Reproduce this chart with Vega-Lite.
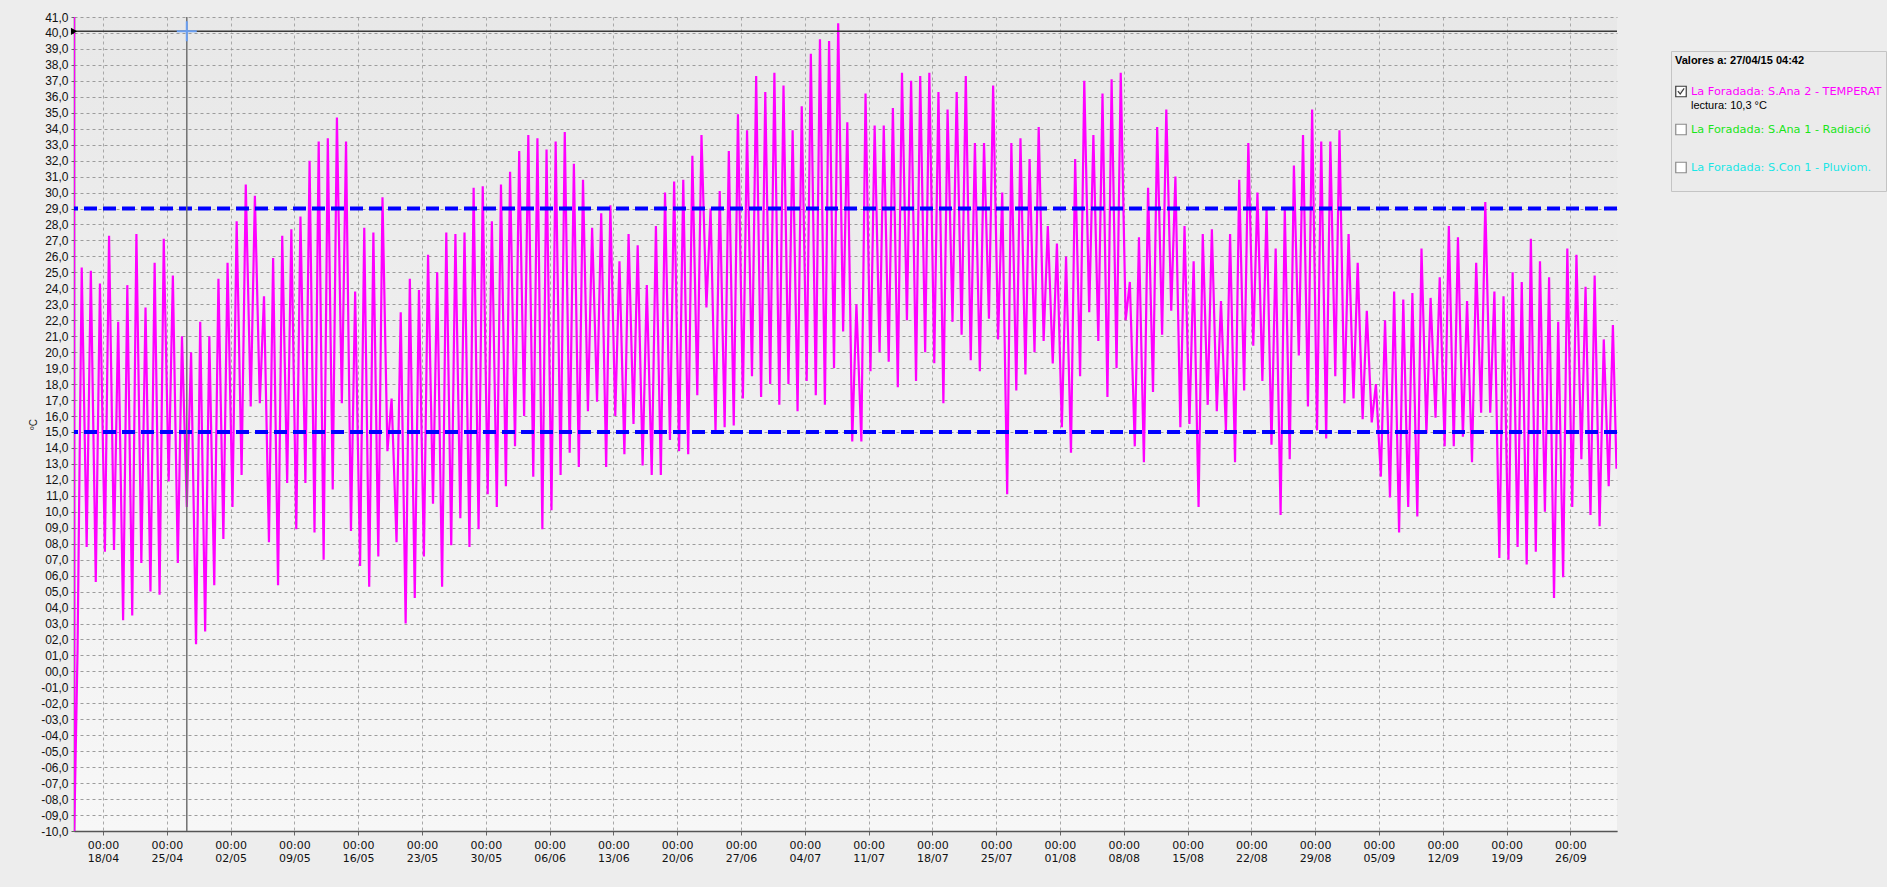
{
  "$schema": "https://vega.github.io/schema/vega-lite/v6.json",
  "width": 1543,
  "height": 814,
  "autosize": {"type": "none"},
  "padding": {"left": 74, "top": 17, "right": 270, "bottom": 56},
  "background": "#ededed",
  "config": {
    "font": "DejaVu Sans",
    "view": {"stroke": null, "fill": {"gradient": "linear", "x1": 0, "y1": 0, "x2": 0, "y2": 1, "stops": [{"offset": 0, "color": "#e8e8e8"}, {"offset": 1, "color": "#f7f7f7"}]}},
    "axis": {"domainColor": "#555555", "domainWidth": 1.5, "tickColor": "#666666", "gridColor": "#9c9c9c", "gridDash": [3, 3], "gridWidth": 1, "labelColor": "#111111"}
  },
  "datasets": {
    "temperatura": [
      {"t":"2015-04-14T19:40","v":41},{"t":"2015-04-14T20:20","v":-10},
      {"t":"2015-04-15T05:00","v":1.3},{"t":"2015-04-15T16:00","v":25.3},
      {"t":"2015-04-16T05:00","v":7.8},{"t":"2015-04-16T16:00","v":25.1},
      {"t":"2015-04-17T05:00","v":5.6},{"t":"2015-04-17T16:00","v":24.3},
      {"t":"2015-04-18T05:00","v":7.5},{"t":"2015-04-18T16:00","v":27.3},
      {"t":"2015-04-19T05:00","v":7.6},{"t":"2015-04-19T16:00","v":21.9},
      {"t":"2015-04-20T05:00","v":3.2},{"t":"2015-04-20T16:00","v":24.2},
      {"t":"2015-04-21T05:00","v":3.5},{"t":"2015-04-21T16:00","v":27.4},
      {"t":"2015-04-22T05:00","v":6.8},{"t":"2015-04-22T16:00","v":22.8},
      {"t":"2015-04-23T05:00","v":5.0},{"t":"2015-04-23T16:00","v":25.6},
      {"t":"2015-04-24T05:00","v":4.8},{"t":"2015-04-24T16:00","v":27.1},
      {"t":"2015-04-25T05:00","v":11.9},{"t":"2015-04-25T16:00","v":24.8},
      {"t":"2015-04-26T05:00","v":6.8},{"t":"2015-04-26T16:00","v":21.0},
      {"t":"2015-04-27T04:42","v":10.3},{"t":"2015-04-27T16:00","v":20.0},
      {"t":"2015-04-28T05:00","v":1.7},{"t":"2015-04-28T16:00","v":21.9},
      {"t":"2015-04-29T05:00","v":2.5},{"t":"2015-04-29T16:00","v":21.0},
      {"t":"2015-04-30T05:00","v":5.4},{"t":"2015-04-30T16:00","v":24.6},
      {"t":"2015-05-01T05:00","v":8.3},{"t":"2015-05-01T16:00","v":25.6},
      {"t":"2015-05-02T05:00","v":10.3},{"t":"2015-05-02T16:00","v":28.2},
      {"t":"2015-05-03T05:00","v":12.3},{"t":"2015-05-03T16:00","v":30.5},
      {"t":"2015-05-04T05:00","v":16.6},{"t":"2015-05-04T16:00","v":29.8},
      {"t":"2015-05-05T05:00","v":16.8},{"t":"2015-05-05T16:00","v":23.5},
      {"t":"2015-05-06T05:00","v":8.1},{"t":"2015-05-06T16:00","v":25.9},
      {"t":"2015-05-07T05:00","v":5.4},{"t":"2015-05-07T16:00","v":27.3},
      {"t":"2015-05-08T05:00","v":11.8},{"t":"2015-05-08T16:00","v":27.7},
      {"t":"2015-05-09T05:00","v":8.9},{"t":"2015-05-09T16:00","v":28.5},
      {"t":"2015-05-10T05:00","v":11.8},{"t":"2015-05-10T16:00","v":32.0},
      {"t":"2015-05-11T05:00","v":8.7},{"t":"2015-05-11T16:00","v":33.2},
      {"t":"2015-05-12T05:00","v":7.0},{"t":"2015-05-12T16:00","v":33.4},
      {"t":"2015-05-13T05:00","v":11.4},{"t":"2015-05-13T16:00","v":34.7},
      {"t":"2015-05-14T05:00","v":16.8},{"t":"2015-05-14T16:00","v":33.2},
      {"t":"2015-05-15T05:00","v":8.8},{"t":"2015-05-15T16:00","v":23.8},
      {"t":"2015-05-16T05:00","v":6.6},{"t":"2015-05-16T16:00","v":27.8},
      {"t":"2015-05-17T05:00","v":5.3},{"t":"2015-05-17T16:00","v":27.5},
      {"t":"2015-05-18T05:00","v":7.2},{"t":"2015-05-18T16:00","v":29.7},
      {"t":"2015-05-19T05:00","v":13.8},{"t":"2015-05-19T16:00","v":17.1},
      {"t":"2015-05-20T05:00","v":8.1},{"t":"2015-05-20T16:00","v":22.5},
      {"t":"2015-05-21T05:00","v":3.0},{"t":"2015-05-21T16:00","v":24.6},
      {"t":"2015-05-22T05:00","v":4.6},{"t":"2015-05-22T16:00","v":23.9},
      {"t":"2015-05-23T05:00","v":7.2},{"t":"2015-05-23T16:00","v":26.1},
      {"t":"2015-05-24T05:00","v":10.5},{"t":"2015-05-24T16:00","v":25.0},
      {"t":"2015-05-25T05:00","v":5.3},{"t":"2015-05-25T16:00","v":27.5},
      {"t":"2015-05-26T05:00","v":7.9},{"t":"2015-05-26T16:00","v":27.4},
      {"t":"2015-05-27T05:00","v":9.6},{"t":"2015-05-27T16:00","v":27.5},
      {"t":"2015-05-28T05:00","v":7.8},{"t":"2015-05-28T16:00","v":30.3},
      {"t":"2015-05-29T05:00","v":8.9},{"t":"2015-05-29T16:00","v":30.4},
      {"t":"2015-05-30T05:00","v":11.1},{"t":"2015-05-30T16:00","v":28.2},
      {"t":"2015-05-31T05:00","v":10.3},{"t":"2015-05-31T16:00","v":30.5},
      {"t":"2015-06-01T05:00","v":11.6},{"t":"2015-06-01T16:00","v":31.3},
      {"t":"2015-06-02T05:00","v":14.1},{"t":"2015-06-02T16:00","v":32.6},
      {"t":"2015-06-03T05:00","v":16.0},{"t":"2015-06-03T16:00","v":33.6},
      {"t":"2015-06-04T05:00","v":12.2},{"t":"2015-06-04T16:00","v":33.4},
      {"t":"2015-06-05T05:00","v":8.9},{"t":"2015-06-05T16:00","v":32.7},
      {"t":"2015-06-06T05:00","v":10.1},{"t":"2015-06-06T16:00","v":33.2},
      {"t":"2015-06-07T05:00","v":12.3},{"t":"2015-06-07T16:00","v":33.8},
      {"t":"2015-06-08T05:00","v":13.7},{"t":"2015-06-08T16:00","v":31.8},
      {"t":"2015-06-09T05:00","v":12.8},{"t":"2015-06-09T16:00","v":30.8},
      {"t":"2015-06-10T05:00","v":16.3},{"t":"2015-06-10T16:00","v":27.8},
      {"t":"2015-06-11T05:00","v":16.9},{"t":"2015-06-11T16:00","v":28.7},
      {"t":"2015-06-12T05:00","v":12.8},{"t":"2015-06-12T16:00","v":29.2},
      {"t":"2015-06-13T05:00","v":16.0},{"t":"2015-06-13T16:00","v":25.7},
      {"t":"2015-06-14T05:00","v":13.6},{"t":"2015-06-14T16:00","v":27.4},
      {"t":"2015-06-15T05:00","v":15.5},{"t":"2015-06-15T16:00","v":26.7},
      {"t":"2015-06-16T05:00","v":12.9},{"t":"2015-06-16T16:00","v":24.2},
      {"t":"2015-06-17T05:00","v":12.3},{"t":"2015-06-17T16:00","v":27.9},
      {"t":"2015-06-18T05:00","v":12.3},{"t":"2015-06-18T16:00","v":30.0},
      {"t":"2015-06-19T05:00","v":14.5},{"t":"2015-06-19T16:00","v":30.7},
      {"t":"2015-06-20T05:00","v":13.8},{"t":"2015-06-20T16:00","v":30.8},
      {"t":"2015-06-21T05:00","v":13.6},{"t":"2015-06-21T16:00","v":32.3},
      {"t":"2015-06-22T05:00","v":17.3},{"t":"2015-06-22T16:00","v":33.6},
      {"t":"2015-06-23T05:00","v":22.8},{"t":"2015-06-23T16:00","v":29.0},
      {"t":"2015-06-24T05:00","v":15.0},{"t":"2015-06-24T16:00","v":30.1},
      {"t":"2015-06-25T05:00","v":15.3},{"t":"2015-06-25T16:00","v":32.6},
      {"t":"2015-06-26T05:00","v":15.4},{"t":"2015-06-26T16:00","v":34.9},
      {"t":"2015-06-27T05:00","v":17.1},{"t":"2015-06-27T16:00","v":33.9},
      {"t":"2015-06-28T05:00","v":18.5},{"t":"2015-06-28T16:00","v":37.3},
      {"t":"2015-06-29T05:00","v":17.2},{"t":"2015-06-29T16:00","v":36.3},
      {"t":"2015-06-30T05:00","v":18.0},{"t":"2015-06-30T16:00","v":37.5},
      {"t":"2015-07-01T05:00","v":16.7},{"t":"2015-07-01T16:00","v":36.7},
      {"t":"2015-07-02T05:00","v":18.0},{"t":"2015-07-02T16:00","v":33.9},
      {"t":"2015-07-03T05:00","v":16.3},{"t":"2015-07-03T16:00","v":35.4},
      {"t":"2015-07-04T05:00","v":18.2},{"t":"2015-07-04T16:00","v":38.7},
      {"t":"2015-07-05T05:00","v":17.3},{"t":"2015-07-05T16:00","v":39.6},
      {"t":"2015-07-06T05:00","v":16.7},{"t":"2015-07-06T16:00","v":39.5},
      {"t":"2015-07-07T05:00","v":19.0},{"t":"2015-07-07T16:00","v":40.6},
      {"t":"2015-07-08T05:00","v":21.3},{"t":"2015-07-08T16:00","v":34.4},
      {"t":"2015-07-09T05:00","v":14.4},{"t":"2015-07-09T16:00","v":23.0},
      {"t":"2015-07-10T05:00","v":14.4},{"t":"2015-07-10T16:00","v":36.2},
      {"t":"2015-07-11T05:00","v":18.8},{"t":"2015-07-11T16:00","v":34.2},
      {"t":"2015-07-12T05:00","v":20.0},{"t":"2015-07-12T16:00","v":34.2},
      {"t":"2015-07-13T05:00","v":19.4},{"t":"2015-07-13T16:00","v":35.3},
      {"t":"2015-07-14T05:00","v":17.8},{"t":"2015-07-14T16:00","v":37.5},
      {"t":"2015-07-15T05:00","v":22.0},{"t":"2015-07-15T16:00","v":37.0},
      {"t":"2015-07-16T05:00","v":18.2},{"t":"2015-07-16T16:00","v":37.3},
      {"t":"2015-07-17T05:00","v":20.0},{"t":"2015-07-17T16:00","v":37.5},
      {"t":"2015-07-18T05:00","v":19.3},{"t":"2015-07-18T16:00","v":36.3},
      {"t":"2015-07-19T05:00","v":16.8},{"t":"2015-07-19T16:00","v":35.2},
      {"t":"2015-07-20T05:00","v":21.9},{"t":"2015-07-20T16:00","v":36.3},
      {"t":"2015-07-21T05:00","v":21.1},{"t":"2015-07-21T16:00","v":37.3},
      {"t":"2015-07-22T05:00","v":19.5},{"t":"2015-07-22T16:00","v":33.1},
      {"t":"2015-07-23T05:00","v":18.8},{"t":"2015-07-23T16:00","v":33.1},
      {"t":"2015-07-24T05:00","v":22.1},{"t":"2015-07-24T16:00","v":36.7},
      {"t":"2015-07-25T05:00","v":20.8},{"t":"2015-07-25T16:00","v":30.0},
      {"t":"2015-07-26T05:00","v":11.1},{"t":"2015-07-26T16:00","v":33.1},
      {"t":"2015-07-27T05:00","v":17.6},{"t":"2015-07-27T16:00","v":33.4},
      {"t":"2015-07-28T05:00","v":18.6},{"t":"2015-07-28T16:00","v":32.1},
      {"t":"2015-07-29T05:00","v":20.0},{"t":"2015-07-29T16:00","v":34.1},
      {"t":"2015-07-30T05:00","v":20.7},{"t":"2015-07-30T16:00","v":27.9},
      {"t":"2015-07-31T05:00","v":19.3},{"t":"2015-07-31T16:00","v":26.8},
      {"t":"2015-08-01T05:00","v":15.3},{"t":"2015-08-01T16:00","v":26.0},
      {"t":"2015-08-02T05:00","v":13.7},{"t":"2015-08-02T16:00","v":32.1},
      {"t":"2015-08-03T05:00","v":18.5},{"t":"2015-08-03T16:00","v":37.0},
      {"t":"2015-08-04T05:00","v":22.5},{"t":"2015-08-04T16:00","v":33.6},
      {"t":"2015-08-05T05:00","v":20.7},{"t":"2015-08-05T16:00","v":36.2},
      {"t":"2015-08-06T05:00","v":17.2},{"t":"2015-08-06T16:00","v":37.1},
      {"t":"2015-08-07T05:00","v":19.0},{"t":"2015-08-07T16:00","v":37.5},
      {"t":"2015-08-08T05:00","v":22.0},{"t":"2015-08-08T16:00","v":24.4},
      {"t":"2015-08-09T05:00","v":14.1},{"t":"2015-08-09T16:00","v":27.2},
      {"t":"2015-08-10T05:00","v":13.1},{"t":"2015-08-10T16:00","v":30.3},
      {"t":"2015-08-11T05:00","v":17.5},{"t":"2015-08-11T16:00","v":34.1},
      {"t":"2015-08-12T05:00","v":21.1},{"t":"2015-08-12T16:00","v":35.2},
      {"t":"2015-08-13T05:00","v":22.6},{"t":"2015-08-13T16:00","v":31.0},
      {"t":"2015-08-14T05:00","v":15.3},{"t":"2015-08-14T16:00","v":27.9},
      {"t":"2015-08-15T05:00","v":15.5},{"t":"2015-08-15T16:00","v":25.7},
      {"t":"2015-08-16T05:00","v":10.3},{"t":"2015-08-16T16:00","v":27.4},
      {"t":"2015-08-17T05:00","v":16.7},{"t":"2015-08-17T16:00","v":27.7},
      {"t":"2015-08-18T05:00","v":16.3},{"t":"2015-08-18T16:00","v":23.2},
      {"t":"2015-08-19T05:00","v":15.1},{"t":"2015-08-19T16:00","v":27.4},
      {"t":"2015-08-20T05:00","v":13.1},{"t":"2015-08-20T16:00","v":30.8},
      {"t":"2015-08-21T05:00","v":17.6},{"t":"2015-08-21T16:00","v":33.1},
      {"t":"2015-08-22T05:00","v":20.4},{"t":"2015-08-22T16:00","v":30.0},
      {"t":"2015-08-23T05:00","v":18.2},{"t":"2015-08-23T16:00","v":29.0},
      {"t":"2015-08-24T05:00","v":14.2},{"t":"2015-08-24T16:00","v":26.5},
      {"t":"2015-08-25T05:00","v":9.8},{"t":"2015-08-25T16:00","v":29.0},
      {"t":"2015-08-26T05:00","v":13.3},{"t":"2015-08-26T16:00","v":31.7},
      {"t":"2015-08-27T05:00","v":19.8},{"t":"2015-08-27T16:00","v":33.6},
      {"t":"2015-08-28T05:00","v":16.6},{"t":"2015-08-28T16:00","v":35.2},
      {"t":"2015-08-29T05:00","v":15.1},{"t":"2015-08-29T16:00","v":33.2},
      {"t":"2015-08-30T05:00","v":14.6},{"t":"2015-08-30T16:00","v":33.2},
      {"t":"2015-08-31T05:00","v":18.5},{"t":"2015-08-31T16:00","v":33.9},
      {"t":"2015-09-01T05:00","v":16.8},{"t":"2015-09-01T16:00","v":27.4},
      {"t":"2015-09-02T05:00","v":17.1},{"t":"2015-09-02T16:00","v":25.6},
      {"t":"2015-09-03T05:00","v":15.8},{"t":"2015-09-03T16:00","v":22.6},
      {"t":"2015-09-04T05:00","v":15.6},{"t":"2015-09-04T16:00","v":18.0},
      {"t":"2015-09-05T05:00","v":12.2},{"t":"2015-09-05T16:00","v":22.0},
      {"t":"2015-09-06T05:00","v":10.9},{"t":"2015-09-06T16:00","v":23.8},
      {"t":"2015-09-07T05:00","v":8.7},{"t":"2015-09-07T16:00","v":23.3},
      {"t":"2015-09-08T05:00","v":10.3},{"t":"2015-09-08T16:00","v":23.7},
      {"t":"2015-09-09T05:00","v":9.7},{"t":"2015-09-09T16:00","v":26.5},
      {"t":"2015-09-10T05:00","v":14.9},{"t":"2015-09-10T16:00","v":23.4},
      {"t":"2015-09-11T05:00","v":15.9},{"t":"2015-09-11T16:00","v":24.7},
      {"t":"2015-09-12T05:00","v":14.1},{"t":"2015-09-12T16:00","v":27.9},
      {"t":"2015-09-13T05:00","v":14.1},{"t":"2015-09-13T16:00","v":27.2},
      {"t":"2015-09-14T05:00","v":14.7},{"t":"2015-09-14T16:00","v":23.2},
      {"t":"2015-09-15T05:00","v":13.1},{"t":"2015-09-15T16:00","v":25.6},
      {"t":"2015-09-16T05:00","v":16.2},{"t":"2015-09-16T16:00","v":29.4},
      {"t":"2015-09-17T05:00","v":16.2},{"t":"2015-09-17T16:00","v":23.8},
      {"t":"2015-09-18T05:00","v":7.1},{"t":"2015-09-18T16:00","v":23.5},
      {"t":"2015-09-19T05:00","v":7.0},{"t":"2015-09-19T16:00","v":25.0},
      {"t":"2015-09-20T05:00","v":7.8},{"t":"2015-09-20T16:00","v":24.4},
      {"t":"2015-09-21T05:00","v":6.7},{"t":"2015-09-21T16:00","v":27.1},
      {"t":"2015-09-22T05:00","v":7.5},{"t":"2015-09-22T16:00","v":25.7},
      {"t":"2015-09-23T05:00","v":10.0},{"t":"2015-09-23T16:00","v":24.7},
      {"t":"2015-09-24T05:00","v":4.6},{"t":"2015-09-24T16:00","v":21.9},
      {"t":"2015-09-25T05:00","v":5.9},{"t":"2015-09-25T16:00","v":26.5},
      {"t":"2015-09-26T05:00","v":10.3},{"t":"2015-09-26T16:00","v":26.1},
      {"t":"2015-09-27T05:00","v":13.3},{"t":"2015-09-27T16:00","v":24.1},
      {"t":"2015-09-28T05:00","v":9.8},{"t":"2015-09-28T16:00","v":24.8},
      {"t":"2015-09-29T05:00","v":9.1},{"t":"2015-09-29T16:00","v":20.8},
      {"t":"2015-09-30T05:00","v":11.6},{"t":"2015-09-30T16:00","v":21.7},
      {"t":"2015-10-01T01:30","v":12.7}
    ],
    "umbrales": [{"u": 29}, {"u": 15}],
    "cursor": [{"t": "2015-04-27T04:42", "v": 40.1}],
    "marca": [{"t": "2015-04-14T19:40", "v": 40.1}]
  },
  "layer": [
    {
      "data": {"name": "temperatura"},
      "mark": {"type": "line", "strokeWidth": 2.2, "interpolate": "linear", "clip": true, "color": "#ff00ff"},
      "encoding": {
        "x": {
          "field": "t", "type": "temporal",
          "scale": {"domain": [{"year": 2015, "month": 4, "date": 14, "hours": 19, "minutes": 40}, {"year": 2015, "month": 10, "date": 1, "hours": 2, "minutes": 50}], "nice": false},
          "axis": {
            "title": null,
            "values": [
              {"year":2015,"month":4,"date":18},{"year":2015,"month":4,"date":25},
              {"year":2015,"month":5,"date":2},{"year":2015,"month":5,"date":9},{"year":2015,"month":5,"date":16},{"year":2015,"month":5,"date":23},{"year":2015,"month":5,"date":30},
              {"year":2015,"month":6,"date":6},{"year":2015,"month":6,"date":13},{"year":2015,"month":6,"date":20},{"year":2015,"month":6,"date":27},
              {"year":2015,"month":7,"date":4},{"year":2015,"month":7,"date":11},{"year":2015,"month":7,"date":18},{"year":2015,"month":7,"date":25},
              {"year":2015,"month":8,"date":1},{"year":2015,"month":8,"date":8},{"year":2015,"month":8,"date":15},{"year":2015,"month":8,"date":22},{"year":2015,"month":8,"date":29},
              {"year":2015,"month":9,"date":5},{"year":2015,"month":9,"date":12},{"year":2015,"month":9,"date":19},{"year":2015,"month":9,"date":26}
            ],
            "tickCount": 60,
            "labelExpr": "[timeFormat(datum.value, '%H:%M'), timeFormat(datum.value, '%d/%m')]",
            "labelFont": "DejaVu Sans", "labelFontSize": 11, "labelLineHeight": 13,
            "labelPadding": 4, "tickSize": 4, "grid": true, "gridColor": "#a8a8a8",
            "labelFlush": false, "labelOverlap": false
          }
        },
        "y": {
          "field": "v", "type": "quantitative",
          "scale": {"domain": [-10, 41], "nice": false, "zero": false},
          "axis": {
            "title": "ºC", "titleFont": "Liberation Sans", "titleFontSize": 10, "titleFontWeight": "normal", "titleColor": "#222222", "titlePadding": 2,
            "values": [-10,-9,-8,-7,-6,-5,-4,-3,-2,-1,0,1,2,3,4,5,6,7,8,9,10,11,12,13,14,15,16,17,18,19,20,21,22,23,24,25,26,27,28,29,30,31,32,33,34,35,36,37,38,39,40,41],
            "tickCount": 60,
            "labelExpr": "(datum.value < 0 ? '-' : '') + (abs(datum.value) < 10 ? '0' : '') + replace(format(abs(datum.value), '.1f'), '.', ',')",
            "labelFont": "Liberation Sans", "labelFontSize": 12, "labelPadding": 3, "tickSize": 3,
            "grid": true, "labelOverlap": false, "labelFlush": false
          }
        }
      }
    },
    {
      "data": {"name": "umbrales"},
      "mark": {"type": "rule", "color": "#0000ff", "strokeWidth": 4, "strokeDash": [13, 6]},
      "encoding": {"y": {"field": "u", "type": "quantitative"}}
    },
    {
      "data": {"name": "cursor"},
      "mark": {"type": "rule", "color": "#3a3a3a", "strokeWidth": 1.5},
      "encoding": {"y": {"field": "v", "type": "quantitative"}}
    },
    {
      "data": {"name": "cursor"},
      "mark": {"type": "rule", "color": "#707070", "strokeWidth": 1.5},
      "encoding": {"x": {"field": "t", "type": "temporal"}}
    },
    {
      "data": {"name": "cursor"},
      "mark": {"type": "point", "shape": "M-1,0L1,0M0,-1L0,1", "size": 400, "stroke": "#6a9ef0", "strokeWidth": 2, "filled": false, "opacity": 1},
      "encoding": {"x": {"field": "t", "type": "temporal"}, "y": {"field": "v", "type": "quantitative"}}
    },
    {
      "data": {"name": "marca"},
      "mark": {"type": "point", "shape": "triangle-right", "size": 50, "filled": true, "color": "#000000", "opacity": 1, "clip": false},
      "encoding": {"x": {"field": "t", "type": "temporal"}, "y": {"field": "v", "type": "quantitative"}}
    },
    {
      "data": {"name": "marca"},
      "mark": {"type": "point", "filled": false, "opacity": 0, "size": 1},
      "encoding": {
        "x": {"field": "t", "type": "temporal"},
        "y": {"field": "v", "type": "quantitative"},
        "color": {
          "datum": "La Foradada: S.Ana 2 - TEMPERAT",
          "type": "nominal",
          "scale": {
            "domain": ["La Foradada: S.Ana 2 - TEMPERAT", "lectura: 10,3 °C", " ", "La Foradada: S.Ana 1 - Radiació", "  ", "   ", "La Foradada: S.Con 1 - Pluviom.", "    "],
            "range": ["#3a3a3a", "#000000", "#000000", "#8a8a8a", "#000000", "#000000", "#8a8a8a", "#000000"]
          },
          "legend": {
            "title": "Valores a: 27/04/15 04:42",
            "orient": "none", "legendX": 1597, "legendY": 34,
            "direction": "vertical",
            "padding": 4,
            "fillColor": "#ebebeb", "strokeColor": "#c4c4c4",
            "titleFont": "Liberation Sans", "titleFontSize": 11, "titleFontWeight": "bold", "titleColor": "#000000", "titlePadding": 19.5,
            "labelFont": "DejaVu Sans", "labelFontSize": 8.9, "labelLimit": 600, "labelOffset": 4,
            "symbolSize": 110, "symbolType": "square", "rowPadding": -2.7,
            "symbolFillColor": "#ffffff", "symbolStrokeWidth": 1.2, "symbolOpacity": 1,
            "encoding": {
              "symbols": {
                "shape": {"value": {"expr": "datum.value === 'La Foradada: S.Ana 2 - TEMPERAT' ? 'M-1,-1H1V1H-1Z M-0.6,-0.05L-0.15,0.5L0.6,-0.6' : 'M-1,-1H1V1H-1Z'"}},
                "fill": {"value": "#ffffff"},
                "strokeWidth": {"value": 1.2},
                "opacity": {"value": {"expr": "indexof(['La Foradada: S.Ana 2 - TEMPERAT','La Foradada: S.Ana 1 - Radiació','La Foradada: S.Con 1 - Pluviom.'], datum.value) >= 0 ? 1 : 0"}}
              },
              "labels": {
                "fill": {"value": {"expr": "datum.value === 'La Foradada: S.Ana 2 - TEMPERAT' ? '#ff00ff' : datum.value === 'La Foradada: S.Ana 1 - Radiació' ? '#19e619' : datum.value === 'La Foradada: S.Con 1 - Pluviom.' ? '#19e6e6' : '#000000'"}},
                "font": {"value": {"expr": "datum.value === 'lectura: 10,3 °C' ? 'Liberation Sans' : 'DejaVu Sans'"}},
                "fontSize": {"value": {"expr": "datum.value === 'lectura: 10,3 °C' ? 11 : 11.3"}}
              }
            }
          }
        }
      }
    }
  ]
}
